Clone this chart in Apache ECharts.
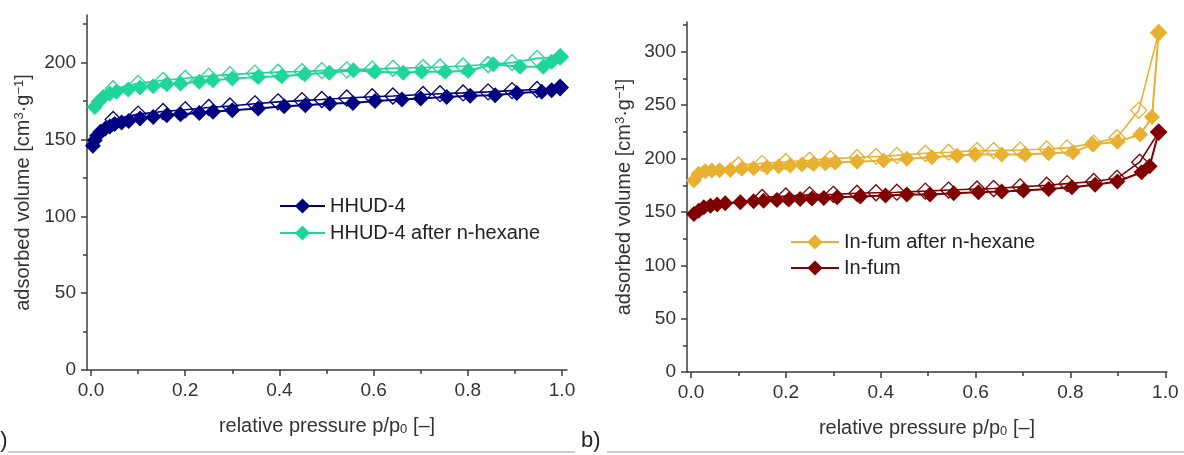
<!DOCTYPE html>
<html>
<head>
<meta charset="utf-8">
<script src="https://cdn.jsdelivr.net/npm/echarts@6/dist/echarts.min.js"></script>
<style>
html,body{margin:0;padding:0;background:#fff;}
#chart{width:1184px;height:455px;}
</style>
</head>
<body>
<div id="chart"></div>
<script>
// ---------- data ----------
const hhudAdsP = [0.004, 0.008, 0.013, 0.02, 0.03, 0.04, 0.05, 0.065, 0.08, 0.104, 0.132, 0.161, 0.19, 0.23, 0.259, 0.30, 0.355, 0.41, 0.455, 0.507, 0.556, 0.603, 0.66, 0.70, 0.755, 0.805, 0.858, 0.904, 0.957, 0.978, 0.996];
const hhudAdsV = [146, 149.5, 152.5, 155, 157, 158.5, 160, 161, 162, 163.6, 164.7, 165.8, 166.4, 167.3, 168, 169, 170.1, 171.6, 172.3, 173.4, 173.8, 175.1, 176, 176.7, 177.7, 178.4, 178.8, 180.3, 181, 182, 183.8];
const hhudDesP = [0.996, 0.947, 0.894, 0.843, 0.79, 0.741, 0.705, 0.641, 0.597, 0.543, 0.49, 0.448, 0.397, 0.348, 0.295, 0.25, 0.2, 0.153, 0.1, 0.047];
const hhudDesV = [183.8, 182.5, 181.8, 181, 180.3, 179.8, 179.3, 178.3, 177.8, 177, 176, 175.3, 174.5, 173.2, 171.8, 170.8, 169.3, 168.2, 166.5, 163];

const hexAdsP = [0.008, 0.016, 0.026, 0.04, 0.054, 0.079, 0.104, 0.132, 0.161, 0.19, 0.23, 0.259, 0.30, 0.355, 0.405, 0.454, 0.506, 0.557, 0.603, 0.663, 0.702, 0.752, 0.801, 0.854, 0.911, 0.96, 0.978, 0.996];
const hexAdsV = [171.2, 174.5, 177.7, 180, 181, 182.5, 183.8, 184.7, 186, 186.4, 187.5, 188.6, 189.6, 190.7, 191.2, 192.5, 193.4, 195.1, 194, 193.4, 194, 194, 194.7, 199, 197.3, 197.3, 200.5, 203.8];
const hexDesP = [0.996, 0.947, 0.894, 0.843, 0.79, 0.741, 0.705, 0.641, 0.597, 0.543, 0.49, 0.448, 0.397, 0.348, 0.295, 0.25, 0.2, 0.153, 0.1, 0.047];
const hexDesV = [203.8, 202.8, 200, 198.8, 197.8, 197.2, 196.8, 196.3, 195.8, 195.3, 194.8, 194.2, 193.8, 193.2, 192.2, 191.2, 189.8, 188.5, 186.5, 183];

const fumHexAdsP = [0.006, 0.016, 0.03, 0.044, 0.06, 0.083, 0.107, 0.132, 0.16, 0.185, 0.209, 0.234, 0.258, 0.283, 0.304, 0.35, 0.406, 0.455, 0.508, 0.561, 0.599, 0.655, 0.704, 0.754, 0.805, 0.847, 0.899, 0.947, 0.972, 0.986];
const fumHexAdsV = [179.4, 185.7, 188.2, 188.8, 189, 189.4, 190.4, 191, 191.9, 192.9, 193.5, 194.4, 195, 195.7, 196.3, 197, 198.2, 199.8, 201.3, 202.9, 203.8, 203.8, 203.8, 205, 206, 213.2, 215.7, 222.6, 238.9, 318];
const fumHexDesP = [0.986, 0.944, 0.898, 0.849, 0.793, 0.75, 0.694, 0.638, 0.603, 0.543, 0.494, 0.434, 0.39, 0.35, 0.294, 0.25, 0.2, 0.15, 0.1];
const fumHexDesV = [318, 245.2, 219.5, 214.5, 210, 209, 208, 207.5, 207.5, 206, 205, 203, 202, 201, 200, 198.5, 197, 195.5, 194];

const fumAdsP = [0.006, 0.016, 0.027, 0.041, 0.055, 0.072, 0.104, 0.132, 0.153, 0.181, 0.206, 0.23, 0.255, 0.28, 0.308, 0.357, 0.41, 0.455, 0.504, 0.554, 0.606, 0.655, 0.701, 0.754, 0.803, 0.852, 0.899, 0.95, 0.967, 0.986];
const fumAdsV = [148.1, 151.2, 154.3, 155.9, 156.9, 158.1, 159, 160, 160.6, 161.3, 161.6, 162.2, 162.5, 163.1, 163.7, 164.4, 165.3, 166.3, 166.3, 167.5, 168.4, 169.1, 170, 171.6, 173.1, 175.5, 178.5, 187.2, 192.9, 224.8];
const fumDesP = [0.986, 0.946, 0.898, 0.849, 0.793, 0.75, 0.694, 0.638, 0.603, 0.543, 0.494, 0.434, 0.39, 0.35, 0.3, 0.25, 0.2, 0.15];
const fumDesV = [224.8, 196.6, 181.5, 178.5, 176.5, 175, 173.5, 172, 171.5, 170.5, 169.5, 168.5, 168, 167.5, 166.5, 166, 165, 163.5];

const xTicks = [0, 0.2, 0.4, 0.6, 0.8, 1.0];
const xMinorTicks = [0.1, 0.3, 0.5, 0.7, 0.9];
const leftYTicks = [0, 50, 100, 150, 200];
const leftYMinorTicks = [25, 75, 125, 175, 225];
const rightYTicks = [0, 50, 100, 150, 200, 250, 300];
const rightYMinorTicks = [25, 75, 125, 175, 225, 275, 325];

const names = {
  hhud: 'HHUD-4', hex: 'HHUD-4 after n-hexane',
  fumHex: 'In-fum after n-hexane', fum: 'In-fum'
};
const colors = { hhud: '#000080', hex: '#1fd69a', fumHex: '#e8b030', fum: '#800000' };

// ---------- helpers ----------
const FONT = '"Liberation Sans", Arial, sans-serif';
const AXC = '#3c3c3c';
const pairs = (p, v) => p.map((x, i) => [x, v[i]]);

const nameRich = {
  t: { fontSize: 20, color: '#333', fontFamily: FONT },
  sup: { fontSize: 13, color: '#333', fontFamily: FONT, verticalAlign: 'top' },
  sub: { fontSize: 13, color: '#333', fontFamily: FONT, verticalAlign: 'bottom' }
};
const yName = '{t|adsorbed volume [cm}{sup|3}{t|·g}{sup|−1}{t|]}';
const xName = '{t|relative pressure p/p}{sub|0}{t| [–]}';

function majorX(grid, min, max) {
  return {
    type: 'value', gridIndex: grid, position: 'bottom', min: min, max: max,
    axisLine: { show: true, onZero: false, lineStyle: { color: AXC, width: 1.5 } },
    axisTick: { show: true, inside: false, length: 6, customValues: xTicks, lineStyle: { color: AXC, width: 1.5 } },
    axisLabel: { show: true, customValues: xTicks, margin: 11, fontSize: 19, color: '#333', fontFamily: FONT,
      formatter: v => v.toFixed(1) },
    splitLine: { show: false },
    name: xName, nameLocation: 'middle', nameGap: 46,
    nameTextStyle: { rich: nameRich, fontSize: 20, color: '#333', fontFamily: FONT }
  };
}
function minorX(grid, min, max) {
  return {
    type: 'value', gridIndex: grid, position: 'bottom', min: min, max: max,
    axisLine: { show: false, onZero: false },
    axisTick: { show: true, inside: false, length: 4, customValues: xMinorTicks, lineStyle: { color: AXC, width: 1.5 } },
    axisLabel: { show: false }, splitLine: { show: false }
  };
}
function majorY(grid, max, ticks, gap) {
  return {
    type: 'value', gridIndex: grid, position: 'left', min: 0, max: max,
    axisLine: { show: true, onZero: false, lineStyle: { color: AXC, width: 1.5 } },
    axisTick: { show: true, inside: false, length: 6, customValues: ticks, lineStyle: { color: AXC, width: 1.5 } },
    axisLabel: { show: true, customValues: ticks, margin: 11, fontSize: 19, color: '#333', fontFamily: FONT },
    splitLine: { show: false },
    name: yName, nameLocation: 'middle', nameGap: gap,
    nameTextStyle: { rich: nameRich, fontSize: 20, color: '#333', fontFamily: FONT }
  };
}
function minorY(grid, max, ticks) {
  return {
    type: 'value', gridIndex: grid, position: 'left', min: 0, max: max,
    axisLine: { show: false, onZero: false },
    axisTick: { show: true, inside: false, length: 4, customValues: ticks, lineStyle: { color: AXC, width: 1.5 } },
    axisLabel: { show: false }, splitLine: { show: false }
  };
}
function adsSeries(name, color, xi, yi, data) {
  return {
    type: 'line', name: name, xAxisIndex: xi, yAxisIndex: yi, data: data,
    symbol: 'diamond', symbolSize: 16, showAllSymbol: true, z: 4,
    itemStyle: { color: color },
    lineStyle: { color: color, width: 2 },
    emphasis: { disabled: true }
  };
}
function desSeries(name, color, xi, yi, data) {
  return {
    type: 'line', name: name, xAxisIndex: xi, yAxisIndex: yi, data: data,
    symbol: 'diamond', symbolSize: 16, showAllSymbol: true, z: 3,
    itemStyle: { color: 'rgba(255,255,255,0)', borderColor: color, borderWidth: 1.3 },
    lineStyle: { color: color, width: 1.6 },
    emphasis: { disabled: true }
  };
}

const chart = echarts.init(document.getElementById('chart'), null, { renderer: 'canvas' });
chart.setOption({
  animation: false,
  backgroundColor: '#ffffff',
  grid: [
    { left: 87, top: 15, width: 480, height: 355, outerBoundsMode: 'none' },
    { left: 687, top: 22, width: 480, height: 350, outerBoundsMode: 'none' }
  ],
  xAxis: [
    majorX(0, -0.0085, 1.0106), minorX(0, -0.0085, 1.0106),
    majorX(1, -0.0085, 1.0036), minorX(1, -0.0085, 1.0036)
  ],
  yAxis: [
    majorY(0, 231, leftYTicks, 54), minorY(0, 231, leftYMinorTicks),
    majorY(1, 328, rightYTicks, 53), minorY(1, 328, rightYMinorTicks)
  ],
  legend: [
    { data: [names.hhud, names.hex], orient: 'vertical', left: 279, top: 196, padding: 0,
      itemWidth: 45, itemHeight: 19, itemGap: 7, selectedMode: false,
      textStyle: { fontSize: 20, color: '#222', fontFamily: FONT } },
    { data: [names.fumHex, names.fum], orient: 'vertical', left: 790, top: 232, padding: 0,
      itemWidth: 48, itemHeight: 19, itemGap: 6, selectedMode: false,
      textStyle: { fontSize: 20, color: '#222', fontFamily: FONT } }
  ],
  graphic: [
    { type: 'text', left: -12, top: 430, style: { text: 'a)', fontSize: 22, fill: '#222', fontFamily: FONT } },
    { type: 'text', left: 581, top: 430, style: { text: 'b)', fontSize: 22, fill: '#222', fontFamily: FONT } },
    { type: 'line', shape: { x1: 8, y1: 452, x2: 575, y2: 452 }, style: { stroke: '#9a9a9a', lineWidth: 1 } },
    { type: 'line', shape: { x1: 607, y1: 452, x2: 1184, y2: 452 }, style: { stroke: '#9a9a9a', lineWidth: 1 } }
  ],
  series: [
    desSeries(names.hhud + ' desorption', colors.hhud, 0, 0, pairs(hhudDesP, hhudDesV)),
    desSeries(names.hex + ' desorption', colors.hex, 0, 0, pairs(hexDesP, hexDesV)),
    adsSeries(names.hhud, colors.hhud, 0, 0, pairs(hhudAdsP, hhudAdsV)),
    adsSeries(names.hex, colors.hex, 0, 0, pairs(hexAdsP, hexAdsV)),
    desSeries(names.fumHex + ' desorption', colors.fumHex, 2, 2, pairs(fumHexDesP, fumHexDesV)),
    desSeries(names.fum + ' desorption', colors.fum, 2, 2, pairs(fumDesP, fumDesV)),
    adsSeries(names.fumHex, colors.fumHex, 2, 2, pairs(fumHexAdsP, fumHexAdsV)),
    adsSeries(names.fum, colors.fum, 2, 2, pairs(fumAdsP, fumAdsV))
  ]
});
</script>
</body>
</html>
